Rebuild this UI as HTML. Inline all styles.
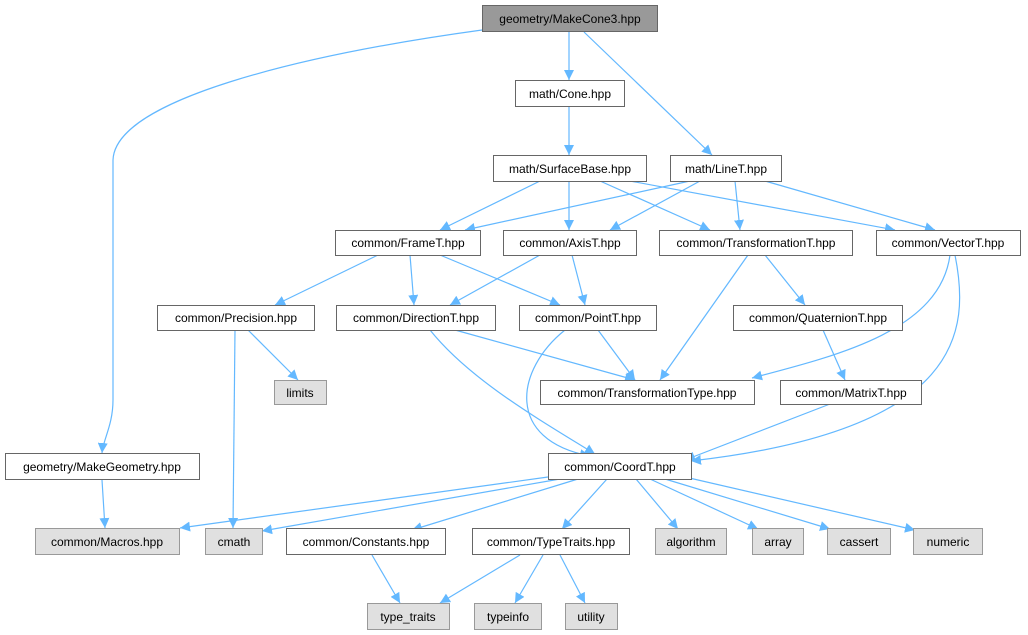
<!DOCTYPE html>
<html><head><meta charset="utf-8"><style>
html,body{margin:0;padding:0;background:#fff;}
svg{display:block;}
text{font-family:"Liberation Sans",Arial,sans-serif;font-size:12px;fill:#000;text-anchor:middle;}
</style></head><body>
<svg width="1028" height="635" viewBox="0 0 1028 635" xmlns="http://www.w3.org/2000/svg">
<defs><marker id="a" viewBox="0 0 10 10" refX="10" refY="5" markerWidth="10" markerHeight="10" markerUnits="userSpaceOnUse" orient="auto"><path d="M0,0 L10,5 L0,10 z" fill="#63b8ff"/></marker></defs>
<g fill="none" stroke="#63b8ff" stroke-width="1.2" marker-end="url(#a)">
<path d="M569,32 L569,80"/>
<path d="M584,32 L712,155"/>
<path d="M482,30 C300,55 115,100 113,160 L113,400 C113,425 103,440 102,453"/>
<path d="M569,107 L569,155"/>
<path d="M540,181 L440,230"/>
<path d="M569,181 L569,230"/>
<path d="M600,181 L710,230"/>
<path d="M630,181 L895,230"/>
<path d="M690,181 L465,230"/>
<path d="M700,181 L610,230"/>
<path d="M735,181 L740,230"/>
<path d="M765,181 L935,230"/>
<path d="M378,255 L275,305"/>
<path d="M410,255 L414,305"/>
<path d="M440,255 L560,305"/>
<path d="M540,255 L450,305"/>
<path d="M572,255 L585,305"/>
<path d="M748,255 L660,380"/>
<path d="M765,255 L805,305"/>
<path d="M950,255 C940,330 840,355 752,378"/>
<path d="M955,255 C970,330 965,430 691,461"/>
<path d="M248,330 L298,380"/>
<path d="M235,330 L233,528"/>
<path d="M455,330 L635,380"/>
<path d="M430,330 C470,380 540,420 595,454"/>
<path d="M598,330 L635,380"/>
<path d="M565,330 C515,370 505,440 590,456"/>
<path d="M823,330 L845,380"/>
<path d="M830,404 L685,460"/>
<path d="M102,480 L105,528"/>
<path d="M548,477 L180,528"/>
<path d="M560,479 L262,531"/>
<path d="M578,479 L412,530"/>
<path d="M607,479 L562,529"/>
<path d="M636,479 L678,529"/>
<path d="M650,479 L758,529"/>
<path d="M665,479 L830,529"/>
<path d="M685,477 L915,530"/>
<path d="M372,555 L400,603"/>
<path d="M520,555 L440,603"/>
<path d="M543,555 L515,603"/>
<path d="M560,555 L585,603"/>
</g>
<g stroke-width="1">
<rect x="482.5" y="5.5" width="175" height="26" fill="#999" stroke="#666"/>
<rect x="515.5" y="80.5" width="109" height="26" fill="#fff" stroke="#666"/>
<rect x="493.5" y="155.5" width="153" height="26" fill="#fff" stroke="#666"/>
<rect x="670.5" y="155.5" width="111" height="26" fill="#fff" stroke="#666"/>
<rect x="335.5" y="230.5" width="145" height="25" fill="#fff" stroke="#666"/>
<rect x="503.5" y="230.5" width="133" height="25" fill="#fff" stroke="#666"/>
<rect x="659.5" y="230.5" width="193" height="25" fill="#fff" stroke="#666"/>
<rect x="876.5" y="230.5" width="144" height="25" fill="#fff" stroke="#666"/>
<rect x="157.5" y="305.5" width="157" height="25" fill="#fff" stroke="#666"/>
<rect x="336.5" y="305.5" width="159" height="25" fill="#fff" stroke="#666"/>
<rect x="519.5" y="305.5" width="137" height="25" fill="#fff" stroke="#666"/>
<rect x="733.5" y="305.5" width="169" height="25" fill="#fff" stroke="#666"/>
<rect x="274.5" y="380.5" width="52" height="24" fill="#e0e0e0" stroke="#999"/>
<rect x="540.5" y="380.5" width="214" height="24" fill="#fff" stroke="#666"/>
<rect x="780.5" y="380.5" width="141" height="24" fill="#fff" stroke="#666"/>
<rect x="5.5" y="453.5" width="194" height="26" fill="#fff" stroke="#666"/>
<rect x="548.5" y="453.5" width="143" height="26" fill="#fff" stroke="#666"/>
<rect x="35.5" y="528.5" width="144" height="26" fill="#e0e0e0" stroke="#999"/>
<rect x="205.5" y="528.5" width="57" height="26" fill="#e0e0e0" stroke="#999"/>
<rect x="286.5" y="528.5" width="159" height="26" fill="#fff" stroke="#666"/>
<rect x="472.5" y="528.5" width="157" height="26" fill="#fff" stroke="#666"/>
<rect x="655.5" y="528.5" width="71" height="26" fill="#e0e0e0" stroke="#999"/>
<rect x="752.5" y="528.5" width="51" height="26" fill="#e0e0e0" stroke="#999"/>
<rect x="827.5" y="528.5" width="63" height="26" fill="#e0e0e0" stroke="#999"/>
<rect x="913.5" y="528.5" width="69" height="26" fill="#e0e0e0" stroke="#999"/>
<rect x="367.5" y="603.5" width="82" height="26" fill="#e0e0e0" stroke="#999"/>
<rect x="474.5" y="603.5" width="67" height="26" fill="#e0e0e0" stroke="#999"/>
<rect x="565.5" y="603.5" width="52" height="26" fill="#e0e0e0" stroke="#999"/>
</g>
<g>
<text x="570" y="23">geometry/MakeCone3.hpp</text>
<text x="570" y="98">math/Cone.hpp</text>
<text x="570" y="173">math/SurfaceBase.hpp</text>
<text x="726" y="173">math/LineT.hpp</text>
<text x="408" y="247">common/FrameT.hpp</text>
<text x="570" y="247">common/AxisT.hpp</text>
<text x="756" y="247">common/TransformationT.hpp</text>
<text x="948" y="247">common/VectorT.hpp</text>
<text x="236" y="322">common/Precision.hpp</text>
<text x="416" y="322">common/DirectionT.hpp</text>
<text x="588" y="322">common/PointT.hpp</text>
<text x="818" y="322">common/QuaternionT.hpp</text>
<text x="300" y="397">limits</text>
<text x="647" y="397">common/TransformationType.hpp</text>
<text x="851" y="397">common/MatrixT.hpp</text>
<text x="102" y="471">geometry/MakeGeometry.hpp</text>
<text x="620" y="471">common/CoordT.hpp</text>
<text x="107" y="546">common/Macros.hpp</text>
<text x="234" y="546">cmath</text>
<text x="366" y="546">common/Constants.hpp</text>
<text x="551" y="546">common/TypeTraits.hpp</text>
<text x="691" y="546">algorithm</text>
<text x="778" y="546">array</text>
<text x="859" y="546">cassert</text>
<text x="948" y="546">numeric</text>
<text x="408" y="621">type_traits</text>
<text x="508" y="621">typeinfo</text>
<text x="591" y="621">utility</text>
</g>
</svg>
</body></html>
